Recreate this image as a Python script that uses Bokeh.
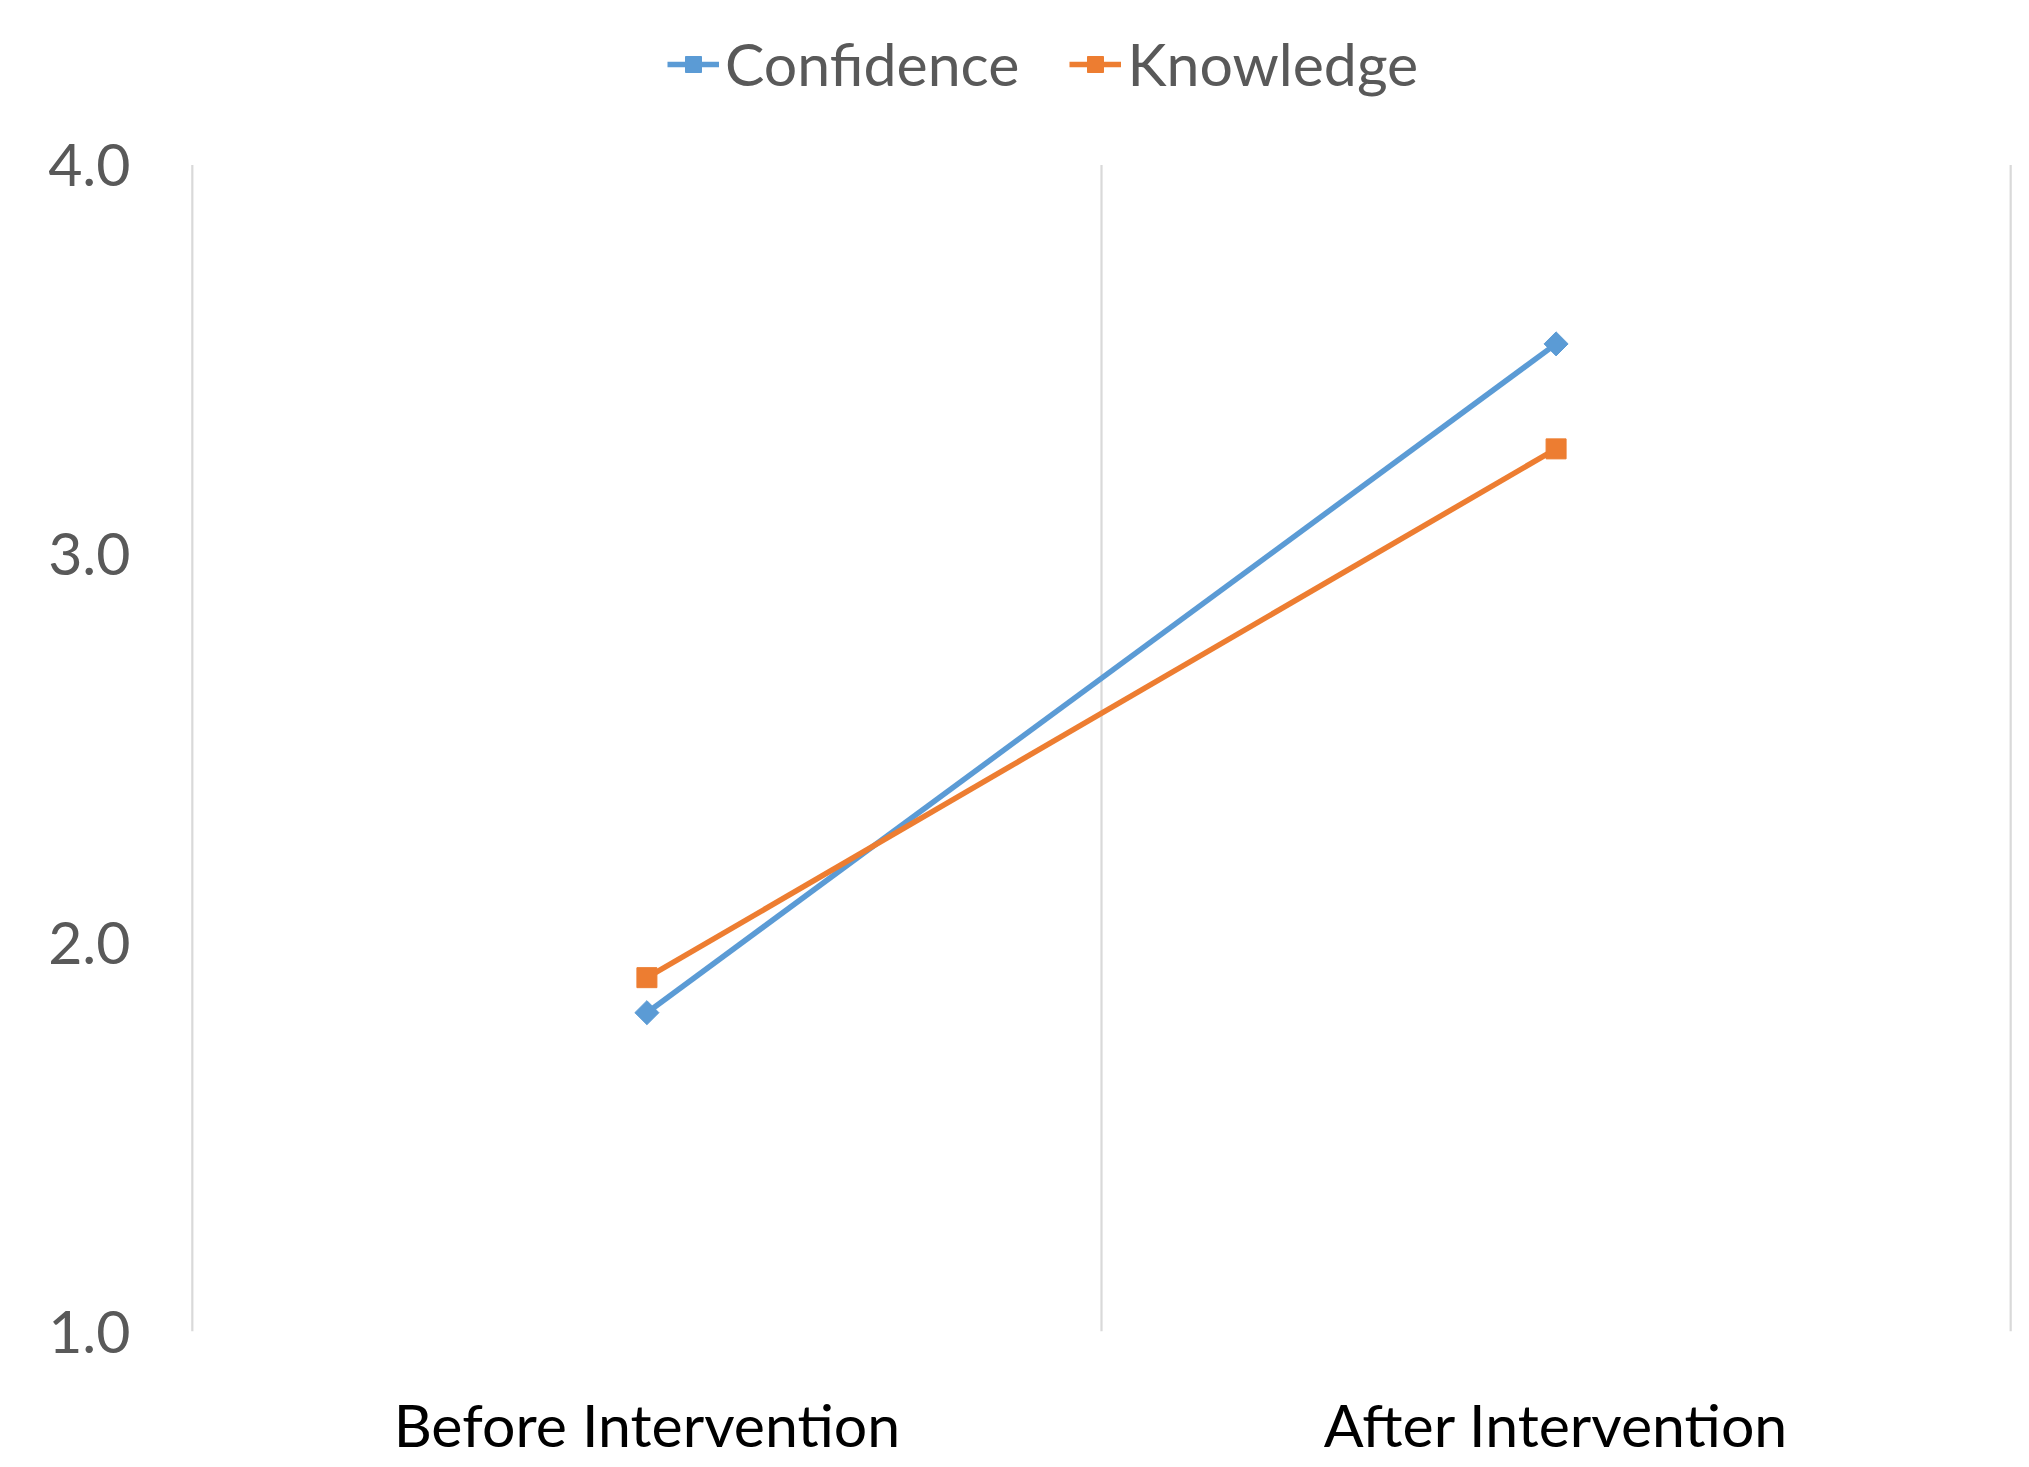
import math
from bokeh.plotting import figure
from bokeh.models import (ColumnDataSource, Range1d, FixedTicker, Legend, LegendItem)
from bokeh.embed import file_html
from bokeh.resources import INLINE

categories = ["Before Intervention", "After Intervention"]
confidence = [1.82, 3.54]
knowledge = [1.91, 3.27]
y_ticks = [1.0, 2.0, 3.0, 4.0]
y_tick_labels = ["1.0", "2.0", "3.0", "4.0"]

xpos = [i + 0.5 for i in range(len(categories))]
boundaries = list(range(len(categories) + 1))

FONT = "Lato"
EPS = 0.002

p = figure(width=2014, height=1462, output_backend="svg", toolbar_location=None,
           x_range=Range1d(-EPS, len(categories) + EPS), y_range=Range1d(1.0, 4.40),
           min_border_left=190, min_border_right=2, min_border_top=9,
           min_border_bottom=129)
p.outline_line_color = None
p.background_fill_color = "white"
p.border_fill_color = "white"
p.grid.grid_line_color = None

# category separators spanning the value axis (1.0 to 4.0)
grid_src = ColumnDataSource(dict(x=boundaries,
                                 y0=[y_ticks[0]] * len(boundaries),
                                 y1=[y_ticks[-1]] * len(boundaries)))
p.segment(x0="x", y0="y0", x1="x", y1="y1", source=grid_src,
          line_color="#D9D9D9", line_width=2.2)

src_c = ColumnDataSource(dict(x=xpos, y=confidence))
src_k = ColumnDataSource(dict(x=xpos, y=knowledge))

c_line = p.line("x", "y", source=src_c, line_color="#5B9BD5", line_width=5.5)
c_mark = p.scatter("x", "y", source=src_c, marker="square", size=17, angle=math.pi / 4,
                   fill_color="#5B9BD5", line_color="#5B9BD5")
k_line = p.line("x", "y", source=src_k, line_color="#ED7D31", line_width=5.5)
k_mark = p.scatter("x", "y", source=src_k, marker="square", size=20,
                   fill_color="#ED7D31", line_color="#ED7D31")

# axes
p.xaxis.ticker = FixedTicker(ticks=xpos)
p.xaxis.major_label_overrides = {x: c for x, c in zip(xpos, categories)}
p.xaxis.axis_line_color = None
p.xaxis.major_tick_line_color = None
p.xaxis.minor_tick_line_color = None
p.xaxis.major_label_text_font = FONT
p.xaxis.major_label_text_font_size = "59px"
p.xaxis.major_label_text_line_height = 1.0
p.xaxis.major_label_text_color = "#000000"
p.xaxis.major_label_standoff = 51

p.yaxis.ticker = FixedTicker(ticks=y_ticks)
p.yaxis.major_label_overrides = {t: l for t, l in zip(y_ticks, y_tick_labels)}
p.yaxis.axis_line_color = None
p.yaxis.major_tick_line_color = None
p.yaxis.minor_tick_line_color = None
p.yaxis.major_label_text_font = FONT
p.yaxis.major_label_text_font_size = "59px"
p.yaxis.major_label_text_color = "#595959"
p.yaxis.major_label_standoff = 54

legend = Legend(items=[
    LegendItem(label="Confidence", renderers=[c_line, c_mark]),
    LegendItem(label="Knowledge", renderers=[k_line, k_mark]),
], orientation="horizontal", location=(477, 1232))
legend.label_text_font = FONT
legend.label_text_font_size = "59px"
legend.label_text_color = "#595959"
legend.border_line_color = None
legend.background_fill_alpha = 0
legend.glyph_width = 52
legend.glyph_height = 40
legend.spacing = 50
legend.label_standoff = 6
legend.margin = 0
legend.padding = 10
p.add_layout(legend, "center")

open("out.html", "w").write(file_html(p, INLINE))
